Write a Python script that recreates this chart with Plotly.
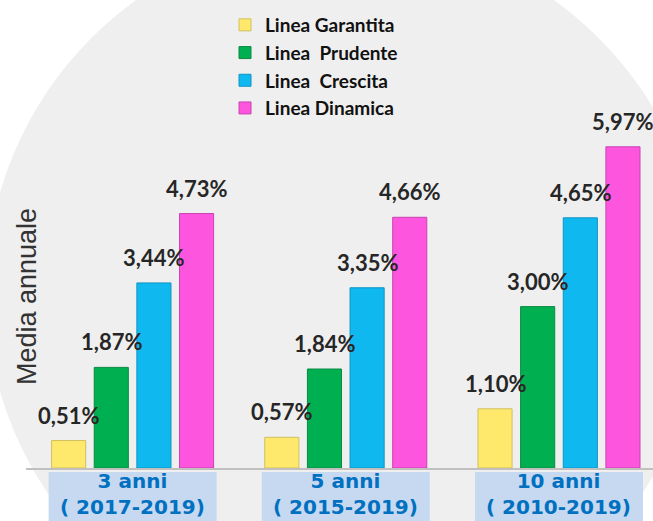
import plotly.graph_objects as go

# ---- data ----
categories = ["3 anni", "5 anni", "10 anni"]
periods = ["( 2017-2019)", "( 2015-2019)", "( 2010-2019)"]
series_names = ["Linea Garantita", "Linea\u00a0 Prudente", "Linea\u00a0 Crescita", "Linea Dinamica"]
garantita = [0.51, 0.57, 1.10]
prudente = [1.87, 1.84, 3.00]
crescita = [3.44, 3.35, 4.65]
dinamica = [4.73, 4.66, 5.97]
y_title = "Media annuale"

series_values = [garantita, prudente, crescita, dinamica]
fill_colors = ["#fee96c", "#00b050", "#10b8f0", "#fd55de"]
line_colors = ["#d2bf5c", "#0b8a42", "#0e94c4", "#c944b0"]

# ---- layout geometry (pixels) ----
W, H = 653, 521
ML, MR, MT, MB = 26, 0, 0, 53
PW, PH = W - ML - MR, H - MT - MB


def px_x(px):
    return (px - ML) / PW


def px_y(py):
    return (H - MB - py) / PH


x_pos = list(range(len(categories)))

fig = go.Figure()
for k, (name, vals) in enumerate(zip(series_names, series_values)):
    fig.add_trace(go.Bar(
        x=x_pos, y=vals, name=name,
        marker=dict(color=fill_colors[k], line=dict(color=line_colors[k], width=1)),
        hoverinfo="skip",
    ))

annotations = []
# value labels above bars
for k, vals in enumerate(series_values):
    for i, v in enumerate(vals):
        annotations.append(dict(
            x=i + (k - 1.5) * 0.2, y=v, xref="x", yref="y",
            text=f"{v:.2f}".replace(".", ",") + "%",
            showarrow=False, xanchor="center", yanchor="bottom", yshift=10,
            font=dict(family="Lato", size=22, color="#262626", weight="bold"),
        ))

# category labels (two lines in one label)
cat_font = dict(family="DejaVu Sans", size=20, color="#0070c0", weight="bold")
for i in x_pos:
    annotations.append(dict(
        x=i, y=px_y(494), xref="x", yref="paper",
        text=categories[i] + "<br>" + periods[i],
        showarrow=False, xanchor="center", yanchor="middle", borderpad=0,
        align="center", font=cat_font,
    ))

# y axis title
annotations.append(dict(
    x=px_x(27), y=px_y(297), xref="paper", yref="paper", text=y_title,
    showarrow=False, textangle=-90, xanchor="center", yanchor="middle",
    font=dict(family="Liberation Sans, Arial", size=27, color="#333333"),
))

shapes = [
    # light gray circular background
    dict(type="circle", xref="paper", yref="paper",
         x0=px_x(-14), x1=px_x(704), y0=px_y(651), y1=px_y(-67),
         fillcolor="#efefef", line=dict(width=0), layer="below"),
]
for i in x_pos:
    shapes.append(dict(type="rect", xref="x", yref="paper",
                       x0=i - 0.394, x1=i + 0.394, y0=px_y(540), y1=px_y(472),
                       fillcolor="#c6d9f1", line=dict(width=0), layer="below"))

fig.update_layout(
    width=W, height=H,
    margin=dict(l=ML, r=MR, t=MT, b=MB, pad=0),
    paper_bgcolor="#ffffff", plot_bgcolor="rgba(0,0,0,0)",
    barmode="group", bargap=0.2, bargroupgap=0.2,
    showlegend=True,
    legend=dict(x=px_x(225), y=px_y(6), xanchor="left", yanchor="top",
                bgcolor="rgba(0,0,0,0)", borderwidth=0,
                font=dict(family="Lato", size=19, color="#111111", weight="bold"),
                traceorder="normal", itemclick=False, itemdoubleclick=False),
    xaxis=dict(range=[-0.5, 2.441], showline=True, linecolor="#c0c0c0", linewidth=1.5,
               showticklabels=False, ticks="", showgrid=False, zeroline=False, fixedrange=True),
    yaxis=dict(range=[0, PH / 53.8], visible=False, fixedrange=True),
    annotations=annotations,
    shapes=shapes,
)

fig.write_html("out.html", config={"displayModeBar": False},
               post_script="document.body.style.margin='0';document.body.style.overflow='hidden';")
